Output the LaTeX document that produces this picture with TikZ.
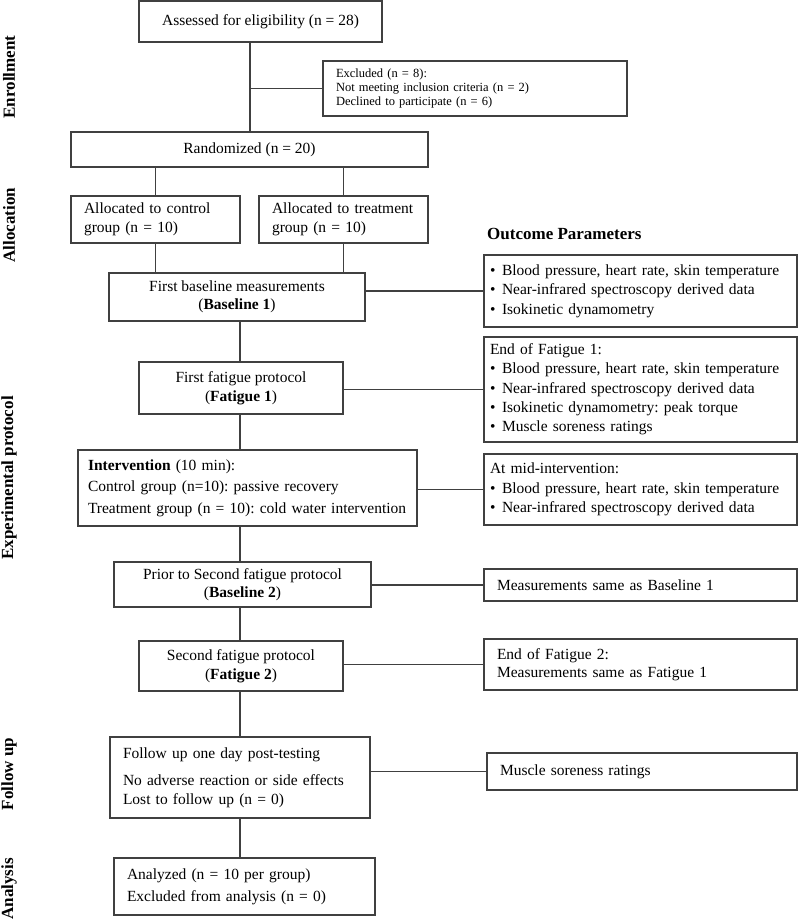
\documentclass[tikz,border=0pt]{standalone}
\usepackage{fontspec}
\setmainfont{Liberation Serif}
\usetikzlibrary{calc}

\newcommand{\bul}{\makebox[12pt][l]{\textbullet}}

\tikzset{
    box/.style={draw=black!75, line width=1.4pt, inner xsep=13pt, inner ysep=2pt,
        font=\fontsize{15.5}{18.5}\selectfont},
    cbox/.style={box, align=center},
    lbox/.style={box, align=left},
    obox/.style={box, align=left, inner xsep=6pt, font=\fontsize{15.5}{19.3}\selectfont},
    link/.style={draw=black!75, line width=1.4pt},
    phase/.style={rotate=90, font=\fontsize{17}{20}\selectfont\bfseries}
}

\begin{document}
\frenchspacing
\begin{tikzpicture}[x=1pt, y=-1pt]
            \useasboundingbox (0,0) rectangle (800,921);

            % main column
            \node (assess) at (260.5,21.5) [cbox, minimum width=243, minimum height=41] {Assessed for eligibility (n = 28)};
            \node (excl) at (475,88.5) [lbox, text width=278, minimum height=55,
                font=\fontsize{12.5}{14}\selectfont] {Excluded (n = 8):\\Not meeting inclusion criteria (n = 2)\\Declined to participate (n = 6)};
            \node (rand) at (249.5,149.5) [cbox, minimum width=357, minimum height=35] {Randomized (n = 20)};
            \node (ctrl) at (155.5,219.5) [lbox, text width=143, minimum height=47] {Allocated to control\\group (n = 10)};
            \node (trt) at (343.5,219.5) [lbox, text width=143, minimum height=47] {Allocated to treatment\\group (n = 10)};
            \node (base1) at (237,297) [cbox, minimum width=256, minimum height=48] {First baseline measurements\\(\textbf{Baseline 1})};
            \node (fat1) at (241,388) [cbox, minimum width=204, minimum height=52] {First fatigue protocol\\(\textbf{Fatigue 1})};
            \node (interv) at (247.5,488) [lbox, inner xsep=10pt, text width=319, minimum height=76,
                font=\fontsize{15.5}{21.7}\selectfont] {\textbf{Intervention} (10 min):\\Control group (n=10): passive recovery\\Treatment group (n = 10): cold water intervention};
            \node (base2) at (242.5,584.5) [cbox, minimum width=257, minimum height=45] {Prior to Second fatigue protocol\\(\textbf{Baseline 2})};
            \node (fat2) at (241,666) [cbox, minimum width=204, minimum height=50] {Second fatigue protocol\\(\textbf{Fatigue 2})};
            \node (follow) at (240,777.5) [lbox, text width=234, minimum height=81] {Follow up one day post-testing\\[9pt]No adverse reaction or side effects\\Lost to follow up (n = 0)};
            \node (anal) at (244.5,886.5) [lbox, text width=235, minimum height=57,
                font=\fontsize{15.5}{21.7}\selectfont] {Analyzed (n = 10 per group)\\Excluded from analysis (n = 0)};

            % outcome column
            \node (head) at (487,239) [anchor=base west, inner sep=0pt, font=\fontsize{17}{20}\selectfont\bfseries] {Outcome Parameters};
            \node (out1) at (640.5,291) [obox, text width=301, minimum height=72] {\bul Blood pressure, heart rate, skin temperature\\\bul Near-infrared spectroscopy derived data\\\bul Isokinetic dynamometry};
            \node (out2) at (640.5,389.5) [obox, text width=301, minimum height=105] {End of Fatigue 1:\\\bul Blood pressure, heart rate, skin temperature\\\bul Near-infrared spectroscopy derived data\\\bul Isokinetic dynamometry: peak torque\\\bul Muscle soreness ratings};
            \node (out3) at (640.5,489.5) [obox, text width=301, minimum height=71] {At mid-intervention:\\\bul Blood pressure, heart rate, skin temperature\\\bul Near-infrared spectroscopy derived data};
            \node (out4) at (640.5,585) [lbox, text width=287, minimum height=32] {Measurements same as Baseline 1};
            \node (out5) at (640.5,664.5) [lbox, text width=287, minimum height=51] {End of Fatigue 2:\\Measurements same as Fatigue 1};
            \node (out6) at (642,771.5) [lbox, text width=284, minimum height=37] {Muscle soreness ratings};

            % phase labels
            \node (enrol) at (9,77) [phase] {Enrollment};
            \node (alloc) at (9,225) [phase] {Allocation};
            \node (expt) at (9,478) [phase] {Experimental protocol};
            \node (fup) at (9,774) [phase] {Follow up};
            \node (ana) at (9,889) [phase] {Analysis};

            % connectors
            \coordinate (spine) at (250,0);
            \coordinate (axis) at (240,0);
            \draw [link] (assess.south -| spine) -- (rand.north -| spine);
            \draw [link] (excl.west -| spine) -- (excl.west);
            \foreach \n in {ctrl, trt}
                {
                    \draw [link] (\n.north) -- (\n.north |- rand.south);
                    \draw [link] (\n.south) -- (\n.south |- base1.north);
                }
            \foreach \a/\b in {base1/fat1, fat1/interv, interv/base2, base2/fat2, fat2/follow, follow/anal}
                \draw [link] (\a.south -| axis) -- (\b.north -| axis);
            \foreach \a/\b in {base1/out1, fat1/out2, interv/out3, base2/out4, fat2/out5, follow/out6}
                \draw [link] (\b.west -| \a.east) -- (\b.west);

        \end{tikzpicture}
\end{document}
